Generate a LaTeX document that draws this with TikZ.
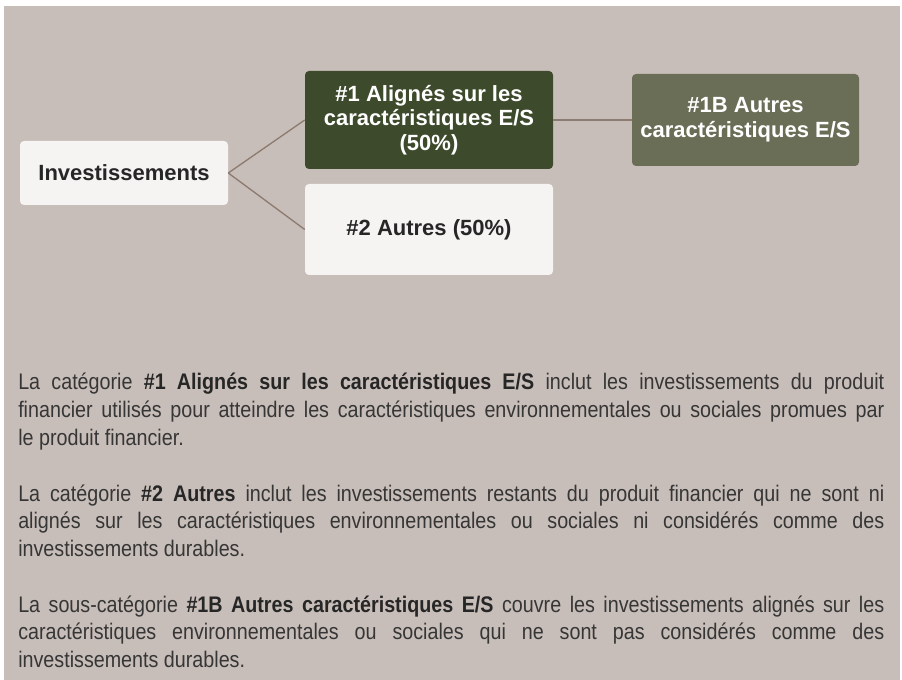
\documentclass[tikz,border=0pt]{standalone}
\usepackage{fontspec}
\setmainfont{Liberation Sans}
\newfontfamily\bodyfont[FakeStretch=0.875]{Liberation Sans}
\usepackage{xcolor}
\definecolor{bgtaupe}{HTML}{C8BEB9}
\definecolor{darkolive}{HTML}{3D4A2B}
\definecolor{greyolive}{HTML}{6B6E57}
\definecolor{offwhite}{HTML}{F5F4F2}
\definecolor{linktaupe}{HTML}{8C7B70}
\definecolor{inktext}{HTML}{363636}
\definecolor{boxtext}{HTML}{262626}
\tolerance=10000
\hyphenpenalty=10000
\exhyphenpenalty=10000

\tikzset{
  catbox/.style={rounded corners=3pt, inner sep=0pt, align=center,
    font=\fontsize{16.5}{18.5}\selectfont\bfseries},
  link/.style={draw=linktaupe, line width=1pt},
  para/.style={anchor=base west, inner sep=0pt, text width=649.5pt, align=justify,
    text=inktext, font=\bodyfont\fontsize{16.9}{20.8}\selectfont}
}

\begin{document}
\begin{tikzpicture}[x=0.75pt,y=-0.75pt]

  \useasboundingbox (0,0) rectangle (902,680);
  \fill[white] (0,0) rectangle (902,680);
  \fill[bgtaupe] (4,6) rectangle (900,680);

  % categories
  \node[catbox, fill=offwhite, text=boxtext, minimum width=156pt, minimum height=48pt]
    (inv) at (124,173) {Investissements};
  \node[catbox, fill=darkolive, text=white, minimum width=186pt, minimum height=73.5pt]
    (cat1) at (429,120) {\#1 Alignés sur les\\caractéristiques E/S\\(50\%)};
  \node[catbox, fill=offwhite, text=boxtext, minimum width=186pt, minimum height=68.25pt]
    (cat2) at (429,229.5) {\#2 Autres (50\%)};
  \node[catbox, fill=greyolive, text=white, minimum width=170.25pt, minimum height=69pt]
    (cat1b) at (745.5,120) {\#1B Autres\\caractéristiques E/S};

  \draw[link] (inv.east) -- (cat1.west);
  \draw[link] (inv.east) -- (cat2.west);
  \draw[link] (cat1.east) -- (cat1b.west);

  % explanations
  \node[para] (para1) at (18,390) {La catégorie {\bfseries\color{boxtext}\#1 Alignés sur les caractéristiques E/S} inclut les investissements du produit\linebreak
    financier utilisés pour atteindre les caractéristiques environnementales ou sociales promues par\linebreak
    le produit financier.};
  \node[para] (para2) at (18,501) {La catégorie {\bfseries\color{boxtext}\#2 Autres} inclut les investissements restants du produit financier qui ne sont ni\linebreak
    alignés sur les caractéristiques environnementales ou sociales ni considérés comme des\linebreak
    investissements durables.};
  \node[para] (para3) at (18,612) {La sous-catégorie {\bfseries\color{boxtext}\#1B Autres caractéristiques E/S} couvre les investissements alignés sur les\linebreak
    caractéristiques environnementales ou sociales qui ne sont pas considérés comme des\linebreak
    investissements durables.};

\end{tikzpicture}
\end{document}
